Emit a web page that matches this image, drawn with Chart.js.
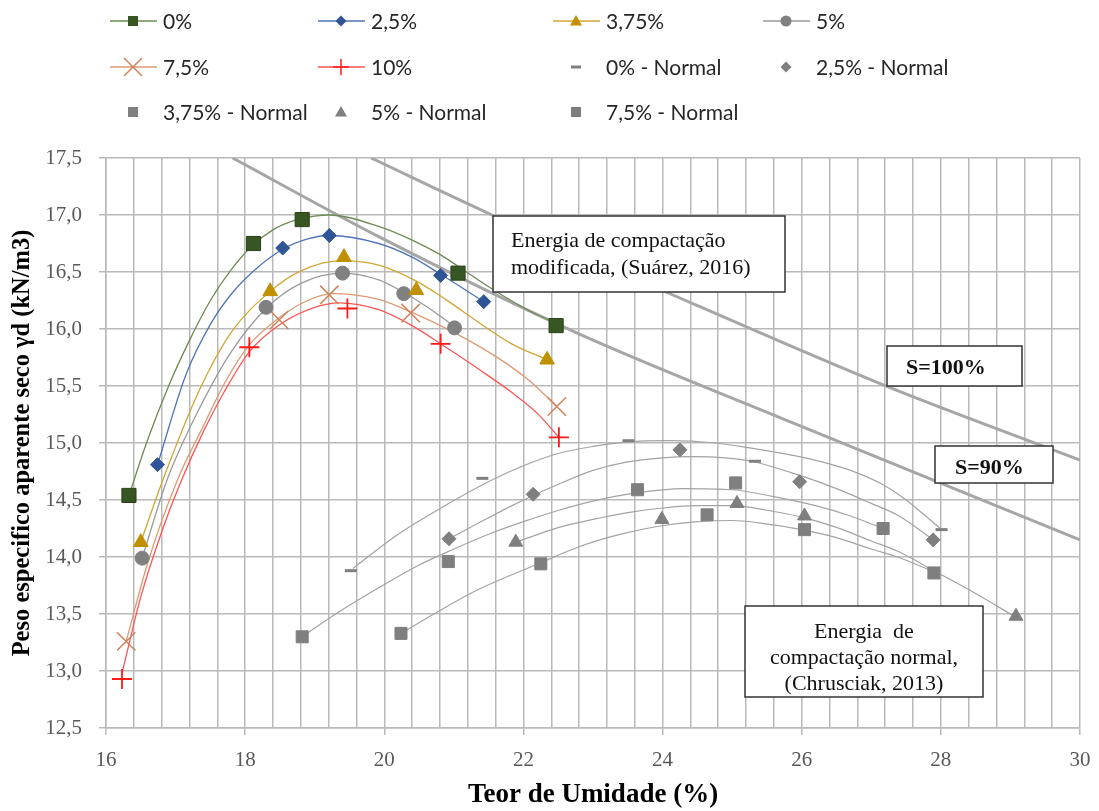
<!DOCTYPE html>
<html>
<head>
<meta charset="utf-8">
<script src="https://cdn.jsdelivr.net/npm/chart.js@4.4.1/dist/chart.umd.min.js"></script>
<style>
  body { margin: 0; background: #fff; }
</style>
</head>
<body>
<canvas id="graficaCompactacao" width="1099" height="811"></canvas>
<script>
// Energia modificada (Suárez, 2016) - pontos dos ensaios
const umid0 = [16.33, 18.12, 18.82, 21.06, 22.47];
const peso0 = [14.54, 16.75, 16.96, 16.49, 16.03];
const umid25 = [16.74, 18.54, 19.21, 20.81, 21.43];
const peso25 = [14.81, 16.71, 16.82, 16.47, 16.24];
const umid375 = [16.5, 18.36, 19.42, 20.46, 22.34];
const peso375 = [14.13, 16.33, 16.63, 16.34, 15.73];
const umid5 = [16.52, 18.3, 19.4, 20.28, 21.01];
const peso5 = [13.99, 16.19, 16.49, 16.31, 16.01];
const umid75 = [16.29, 18.49, 19.21, 20.38, 22.48];
const peso75 = [13.26, 16.08, 16.3, 16.14, 15.32];
const umid10 = [16.23, 18.06, 19.47, 20.81, 22.51];
const peso10 = [12.93, 15.84, 16.18, 15.87, 15.05];

// linhas de tendencia
const tend0X = [16.33, 16.6, 16.9, 17.2, 17.5, 17.8, 18.1, 18.4, 18.7, 19.0, 19.2, 19.92, 20.4, 20.81, 21.06, 21.5, 22.08, 22.47];
const tend0Y = [14.54, 15.03, 15.5, 15.9, 16.25, 16.52, 16.73, 16.87, 16.95, 16.99, 17.0, 16.9, 16.78, 16.65, 16.55, 16.37, 16.16, 16.05];
const tend25X = [16.74, 17.15, 17.5, 17.82, 18.2, 18.54, 18.9, 19.21, 19.92, 20.4, 20.81, 21.43];
const tend25Y = [14.81, 15.6, 16.04, 16.32, 16.55, 16.7, 16.79, 16.82, 16.75, 16.63, 16.48, 16.24];
const tend375X = [16.5, 16.82, 17.34, 17.8, 18.36, 18.8, 19.39, 19.92, 20.46, 20.88, 21.4, 21.83, 22.34];
const tend375Y = [14.13, 14.68, 15.46, 15.97, 16.33, 16.51, 16.6, 16.56, 16.42, 16.26, 16.04, 15.87, 15.73];
const tend5X = [16.52, 16.88, 17.34, 17.8, 18.3, 18.8, 19.4, 19.92, 20.28, 20.65, 21.01];
const tend5Y = [13.99, 14.68, 15.3, 15.8, 16.18, 16.4, 16.49, 16.43, 16.32, 16.18, 16.02];
const tend75X = [16.29, 16.6, 17.03, 17.4, 17.7, 18.06, 18.49, 18.9, 19.25, 19.92, 20.38, 21.0, 21.65, 22.1, 22.48];
const tend75Y = [13.26, 13.95, 14.68, 15.15, 15.52, 15.86, 16.1, 16.25, 16.31, 16.26, 16.15, 15.97, 15.74, 15.54, 15.32];
const tend10X = [16.23, 16.5, 16.8, 17.09, 17.4, 17.7, 18.06, 18.5, 19.0, 19.35, 19.92, 20.4, 20.81, 21.4, 21.84, 22.2, 22.51];
const tend10Y = [12.98, 13.65, 14.22, 14.68, 15.1, 15.45, 15.8, 16.04, 16.19, 16.23, 16.17, 16.03, 15.87, 15.63, 15.44, 15.26, 15.05];

// Energia normal (Chrusciak, 2013)
const umid0N = [19.52, 21.41, 23.51, 25.33, 28.01];
const peso0N = [13.88, 14.69, 15.02, 14.84, 14.24];
const umid25N = [20.93, 22.14, 24.25, 25.97, 27.89];
const peso25N = [14.16, 14.55, 14.94, 14.66, 14.15];
const umid375N = [18.82, 20.92, 23.64, 25.05, 27.17];
const peso375N = [13.3, 13.96, 14.59, 14.65, 14.25];
const umid5N = [21.89, 23.99, 25.07, 26.04, 29.08];
const peso5N = [14.13, 14.33, 14.47, 14.36, 13.48];
const umid75N = [20.24, 22.25, 24.64, 26.04, 27.9];
const peso75N = [13.33, 13.94, 14.37, 14.24, 13.86];

const tend0NX = [19.55, 20.2, 20.9, 21.4, 22.0, 22.51, 23.0, 23.5, 24.08, 24.76, 25.23, 25.8, 26.19, 26.7, 27.15, 27.5, 28.01];
const tend0NY = [13.9, 14.2, 14.46, 14.63, 14.8, 14.91, 14.97, 15.01, 15.02, 15.0, 14.96, 14.9, 14.85, 14.76, 14.64, 14.5, 14.24];
const tend25NX = [20.93, 21.36, 21.8, 22.14, 22.51, 23.0, 23.46, 24.0, 24.42, 24.9, 25.28, 25.95, 26.5, 27.0, 27.4, 27.89];
const tend25NY = [14.16, 14.3, 14.44, 14.54, 14.64, 14.76, 14.83, 14.87, 14.88, 14.87, 14.84, 14.72, 14.6, 14.47, 14.36, 14.15];
const tend375NX = [18.82, 19.3, 19.92, 20.5, 21.0, 21.5, 22.0, 22.51, 23.0, 23.6, 24.3, 25.0, 25.6, 26.2, 26.7, 27.17];
const tend375NY = [13.3, 13.5, 13.73, 13.93, 14.07, 14.2, 14.31, 14.41, 14.49, 14.56, 14.6, 14.59, 14.53, 14.45, 14.36, 14.25];
const tend5NX = [21.89, 22.51, 23.0, 23.5, 24.0, 24.5, 25.0, 25.5, 26.0, 26.5, 27.0, 27.38, 27.9, 28.5, 29.08];
const tend5NY = [14.13, 14.26, 14.33, 14.39, 14.43, 14.45, 14.45, 14.41, 14.35, 14.26, 14.14, 14.05, 13.88, 13.68, 13.47];
const tend75NX = [20.24, 20.8, 21.3, 22.25, 22.8, 23.4, 23.94, 24.5, 25.0, 25.38, 26.0, 26.5, 27.0, 27.38, 27.9];
const tend75NY = [13.33, 13.53, 13.7, 13.95, 14.09, 14.2, 14.27, 14.31, 14.32, 14.3, 14.24, 14.17, 14.07, 14.0, 13.87];

// curvas de saturacao
const s100X = [19.81, 21.55, 24.52, 27.17, 30.0];
const s100Y = [17.5, 17.0, 16.2, 15.51, 14.85];
const s90X = [17.82, 19.92, 22.79, 25.66, 30.0];
const s90Y = [17.5, 16.81, 15.96, 15.23, 14.15];

const pts = (xs, ys) => xs.map((x, i) => ({ x: x, y: ys[i] }));

function marcadores(label, xs, ys, estilo, raio, cor, borda, lw) {
  return {
    label: label,
    data: pts(xs, ys),
    showLine: false,
    pointStyle: estilo,
    pointRadius: raio,
    pointHoverRadius: raio,
    pointBackgroundColor: cor,
    pointBorderColor: borda || cor,
    pointBorderWidth: lw || 1,
  };
}

function tendencia(xs, ys, cor, lw) {
  return {
    label: "",
    data: pts(xs, ys),
    showLine: true,
    borderColor: cor,
    borderWidth: lw || 1.3,
    pointRadius: 0,
    cubicInterpolationMode: "monotone",
    fill: false,
  };
}

const cinzaN = "#7f7f7f";
const linhaN = "#a3a3a3";

const datasets = [
  marcadores("0%", umid0, peso0, "rect", 10, "#375623", "#2a4219"),
  marcadores("2,5%", umid25, peso25, "rectRot", 7, "#2f5597"),
  marcadores("3,75%", umid375, peso375, "triangle", 8.5, "#bf9000"),
  marcadores("5%", umid5, peso5, "circle", 7, "#808080"),
  marcadores("7,5%", umid75, peso75, "crossRot", 13, "#d0825a", "#d0825a", 1.5),
  marcadores("10%", umid10, peso10, "cross", 10, "#ff1a1a", "#ff1a1a", 1.8),
  marcadores("0% - Normal", umid0N, peso0N, "line", 6, cinzaN, cinzaN, 3),
  marcadores("2,5% - Normal", umid25N, peso25N, "rectRot", 7, cinzaN),
  marcadores("3,75% - Normal", umid375N, peso375N, "rect", 8.5, cinzaN),
  marcadores("5% - Normal", umid5N, peso5N, "triangle", 8, cinzaN),
  marcadores("7,5% - Normal", umid75N, peso75N, "rect", 8.5, cinzaN),
  tendencia(tend0X, tend0Y, "#6f8a55"),
  tendencia(tend25X, tend25Y, "#4f74b8"),
  tendencia(tend375X, tend375Y, "#d1a634"),
  tendencia(tend5X, tend5Y, "#9a9a9a"),
  tendencia(tend75X, tend75Y, "#dd9a74"),
  tendencia(tend10X, tend10Y, "#ff5555"),
  tendencia(tend0NX, tend0NY, linhaN, 1.2),
  tendencia(tend25NX, tend25NY, linhaN, 1.2),
  tendencia(tend375NX, tend375NY, linhaN, 1.2),
  tendencia(tend5NX, tend5NY, linhaN, 1.2),
  tendencia(tend75NX, tend75NY, linhaN, 1.2),
  tendencia(s100X, s100Y, "#a6a6a6", 3),
  tendencia(s90X, s90Y, "#a6a6a6", 3),
];

// legenda desenhada a mao (grade de 4 colunas)
const legenda = [
  { i: 0, col: 110, lin: 21, linha: "#6f8a55", s: 5 },
  { i: 1, col: 318, lin: 21, linha: "#4f74b8", s: 5.5 },
  { i: 2, col: 553, lin: 21, linha: "#d1a634", s: 6 },
  { i: 3, col: 763, lin: 21, linha: "#9a9a9a", s: 5.5 },
  { i: 4, col: 110, lin: 67, linha: "#dd9a74", s: 9 },
  { i: 5, col: 318, lin: 67, linha: "#ff5555", s: 8 },
  { i: 6, col: 553, lin: 67, linha: null, s: 5 },
  { i: 7, col: 763, lin: 67, linha: null, s: 5.5 },
  { i: 8, col: 110, lin: 112, linha: null, s: 5 },
  { i: 9, col: 318, lin: 112, linha: null, s: 6 },
  { i: 10, col: 553, lin: 112, linha: null, s: 5 },
];

function marca(ctx, tipo, x, y, s, cor, lw) {
  ctx.save();
  ctx.fillStyle = cor;
  ctx.strokeStyle = cor;
  ctx.lineWidth = lw;
  ctx.beginPath();
  if (tipo === "rect") {
    ctx.rect(x - s, y - s, 2 * s, 2 * s);
    ctx.fill();
  } else if (tipo === "rectRot") {
    ctx.moveTo(x, y - s); ctx.lineTo(x + s, y); ctx.lineTo(x, y + s); ctx.lineTo(x - s, y);
    ctx.closePath(); ctx.fill();
  } else if (tipo === "triangle") {
    ctx.moveTo(x, y - s); ctx.lineTo(x + s, y + s * 0.75); ctx.lineTo(x - s, y + s * 0.75);
    ctx.closePath(); ctx.fill();
  } else if (tipo === "circle") {
    ctx.arc(x, y, s, 0, Math.PI * 2); ctx.fill();
  } else if (tipo === "crossRot") {
    ctx.moveTo(x - s, y - s); ctx.lineTo(x + s, y + s);
    ctx.moveTo(x + s, y - s); ctx.lineTo(x - s, y + s); ctx.stroke();
  } else if (tipo === "cross") {
    ctx.moveTo(x - s, y); ctx.lineTo(x + s, y);
    ctx.moveTo(x, y - s); ctx.lineTo(x, y + s); ctx.stroke();
  } else if (tipo === "line") {
    ctx.moveTo(x - s, y); ctx.lineTo(x + s, y); ctx.stroke();
  }
  ctx.restore();
}

const pluginLegenda = {
  id: "legendaGrade",
  afterDraw(chart) {
    const ctx = chart.ctx;
    ctx.save();
    ctx.font = "21px Lato";
    ctx.textBaseline = "middle";
    legenda.forEach((l) => {
      const ds = chart.data.datasets[l.i];
      const cx = l.col + 23;
      if (l.linha) {
        ctx.strokeStyle = l.linha;
        ctx.lineWidth = 1.5;
        ctx.beginPath();
        ctx.moveTo(l.col, l.lin);
        ctx.lineTo(l.col + 47, l.lin);
        ctx.stroke();
      }
      marca(ctx, ds.pointStyle, cx, l.lin, l.s, ds.pointBackgroundColor, ds.pointStyle === "line" ? 3 : 1.5);
      ctx.fillStyle = "#262626";
      ctx.fillText(ds.label, l.col + 53, l.lin + 1);
    });
    ctx.restore();
  },
};

// caixas de texto
const caixas = [
  { x: 493, y: 216, w: 292, h: 76, linhas: ["Energia de compactação", "modificada, (Suárez, 2016)"], tx: 511, ty: 241, dy: 27, bold: false, centro: false },
  { x: 887, y: 346, w: 135, h: 40, linhas: ["S=100%"], tx: 906, ty: 368, dy: 0, bold: true, centro: false },
  { x: 935, y: 446, w: 118, h: 37, linhas: ["S=90%"], tx: 955, ty: 468, dy: 0, bold: true, centro: false },
  { x: 745, y: 606, w: 238, h: 91, linhas: ["Energia  de", "compactação normal,", "(Chrusciak, 2013)"], tx: 864, ty: 632, dy: 26, bold: false, centro: true },
];

const pluginCaixas = {
  id: "caixasTexto",
  afterDatasetsDraw(chart) {
    const ctx = chart.ctx;
    ctx.save();
    caixas.forEach((c) => {
      ctx.fillStyle = "#ffffff";
      ctx.fillRect(c.x, c.y, c.w, c.h);
      ctx.strokeStyle = "#333333";
      ctx.lineWidth = 1.5;
      ctx.strokeRect(c.x, c.y, c.w, c.h);
      ctx.fillStyle = "#111111";
      ctx.font = (c.bold ? "bold " : "") + "22px 'Liberation Serif'";
      ctx.textBaseline = "middle";
      ctx.textAlign = c.centro ? "center" : "left";
      c.linhas.forEach((t, k) => ctx.fillText(t, c.tx, c.ty + k * c.dy));
    });
    ctx.restore();
  },
};

const corGrade = "#b9b9b9";
const fonteEixo = { family: "'Liberation Serif'", size: 21 };

const ctx = document.getElementById("graficaCompactacao").getContext("2d");
window.myChart = new Chart(ctx, {
  type: "scatter",
  data: { datasets: datasets },
  options: {
    responsive: false,
    animation: false,
    events: [],
    layout: { padding: { top: 158, right: 0, left: 0, bottom: 0 } },
    plugins: {
      legend: { display: false },
      tooltip: { enabled: false },
    },
    scales: {
      x: {
        type: "linear",
        min: 16,
        max: 30,
        afterFit: (scale) => {
          scale.height = 83;
          scale.paddingRight = 19;
        },
        ticks: {
          stepSize: 0.4,
          autoSkip: false,
          maxRotation: 0,
          padding: 13,
          color: "#595959",
          font: fonteEixo,
          callback: (v) => {
            const r = Math.round(v);
            return Math.abs(v - r) < 1e-6 && r % 2 === 0 ? String(r) : "";
          },
        },
        grid: {
          color: corGrade,
          lineWidth: 1.5,
          tickLength: 7,
          tickColor: (c) => {
            const v = c.tick ? c.tick.value : 0;
            const r = Math.round(v);
            return Math.abs(v - r) < 1e-6 && r % 2 === 0 ? corGrade : "rgba(0,0,0,0)";
          },
        },
        border: { color: corGrade, width: 1.5 },
        title: {
          display: true,
          text: "Teor de Umidade (%)",
          color: "#000",
          font: { family: "'Liberation Serif'", size: 27, weight: "bold" },
          padding: { top: 0, bottom: 0 },
        },
      },
      y: {
        type: "linear",
        min: 12.5,
        max: 17.5,
        afterFit: (scale) => { scale.width = 106; },
        ticks: {
          stepSize: 0.5,
          padding: 17,
          color: "#595959",
          font: fonteEixo,
          callback: (v) => v.toFixed(1).replace(".", ","),
        },
        grid: { color: corGrade, lineWidth: 1.5, tickLength: 7 },
        border: { color: corGrade, width: 1.5 },
        title: {
          display: true,
          text: "Peso especifico aparente seco γd (kN/m3)",
          color: "#000",
          font: { family: "'Liberation Serif'", size: 24.5, weight: "bold" },
          padding: { top: 8, bottom: 0 },
        },
      },
    },
  },
  plugins: [pluginCaixas, pluginLegenda],
});
</script>
</body>
</html>
